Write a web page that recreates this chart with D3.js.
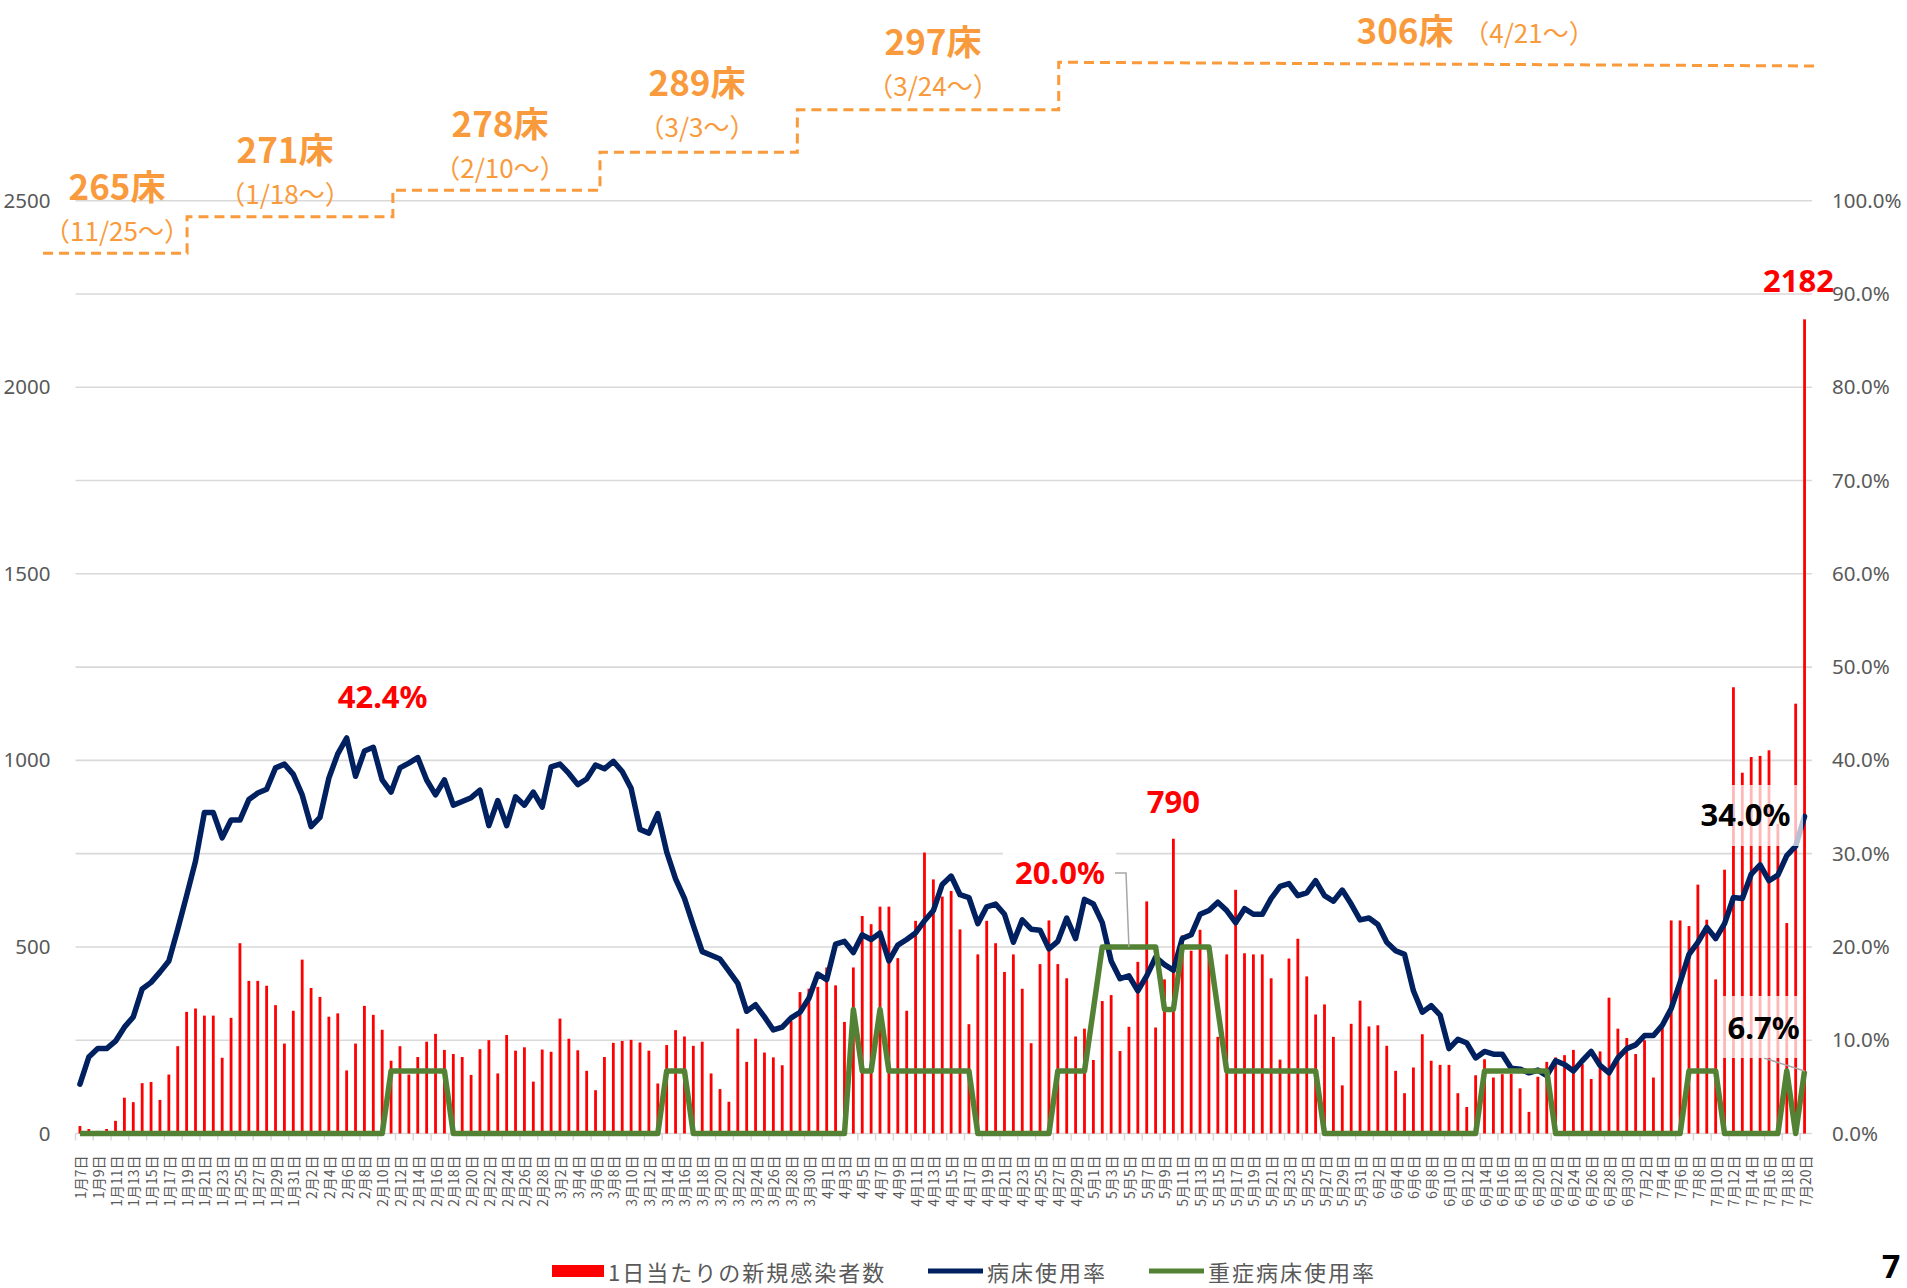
<!DOCTYPE html>
<html>
<head>
<meta charset="utf-8">
<script src="https://cdn.jsdelivr.net/npm/d3@7"></script>
<style>
  body { margin: 0; background: #fff; }
  svg { display: block; font-family: "Noto Sans CJK JP", "Noto Sans", sans-serif; }
</style>
</head>
<body>
<svg id="chart" width="1907" height="1288"></svg>
<script>
// ---------------- DATA ----------------
const firstDay = [2022, 0, 7];   // 1月7日
const lastDay  = [2022, 6, 20];  // 7月20日

// 1日当たりの新規感染者数
const cases = [
  20,12,7,12,34,96,84,135,138,90,
  158,234,326,335,316,316,203,310,510,409,
  409,396,344,241,329,466,390,366,313,322,
  169,241,342,318,278,195,234,158,205,246,
  267,224,213,205,157,226,250,161,264,222,
  231,139,225,219,308,254,223,168,116,205,
  243,248,251,244,222,134,237,277,260,235,
  246,161,119,85,281,192,254,217,204,183,
  301,379,388,393,445,397,299,445,583,561,
  608,608,470,329,570,753,681,635,650,547,
  293,480,570,510,433,480,388,242,454,571,
  454,416,260,281,197,355,371,221,286,460,
  622,284,413,790,531,490,546,480,259,480,
  653,483,480,480,416,198,469,522,421,319,
  346,259,129,294,356,287,290,235,168,108,
  177,266,195,184,184,108,71,156,199,150,
  159,160,121,58,152,192,204,210,224,186,
  146,220,364,281,256,213,250,150,286,571,
  571,556,667,573,413,707,1196,967,1009,1012,
  1027,830,564,1152,2182
];

// 病床使用率 (%)
const bedRate = [
  5.3,8.2,9.1,9.1,9.9,11.4,12.5,15.5,16.2,17.3,
  18.5,21.9,25.5,29.2,34.4,34.4,31.7,33.6,33.6,35.8,
  36.5,36.9,39.2,39.6,38.5,36.3,32.9,33.9,38.1,40.7,
  42.4,38.3,41.0,41.4,37.9,36.6,39.2,39.7,40.3,37.9,
  36.3,37.9,35.2,35.6,36.0,36.8,33.0,35.7,33.0,36.1,
  35.2,36.6,35.0,39.3,39.6,38.6,37.4,38.0,39.5,39.1,
  39.9,38.8,37.0,32.6,32.2,34.3,30.2,27.3,25.2,22.3,
  19.5,19.1,18.7,17.4,16.1,13.1,13.8,12.5,11.1,11.4,
  12.4,13.0,14.5,17.1,16.5,20.3,20.6,19.4,21.3,20.8,
  21.5,18.5,20.2,20.8,21.5,22.8,23.9,26.7,27.6,25.6,
  25.3,22.5,24.3,24.6,23.5,20.5,22.9,21.9,21.8,19.8,
  20.6,23.1,20.9,25.1,24.6,22.6,18.5,16.6,16.9,15.3,
  16.9,18.9,18.1,17.5,20.9,21.3,23.5,23.9,24.8,23.9,
  22.6,24.1,23.5,23.5,25.2,26.5,26.8,25.5,25.8,27.1,
  25.5,24.9,26.1,24.6,22.9,23.1,22.4,20.5,19.6,19.2,
  15.3,13.0,13.7,12.7,9.1,10.1,9.7,8.1,8.8,8.5,
  8.5,7.0,6.9,6.5,6.8,6.2,7.8,7.4,6.7,7.8,
  8.8,7.3,6.5,8.1,9.1,9.5,10.5,10.5,11.6,13.4,
  16.2,19.2,20.5,22.1,20.9,22.5,25.3,25.2,27.8,28.8,
  27.1,27.7,29.8,30.8,34.0
];

// 重症病床使用率 (%)
const severeRate = [
  0,0,0,0,0,0,0,0,0,0,
  0,0,0,0,0,0,0,0,0,0,
  0,0,0,0,0,0,0,0,0,0,
  0,0,0,0,0,6.7,6.7,6.7,6.7,6.7,
  6.7,6.7,0,0,0,0,0,0,0,0,
  0,0,0,0,0,0,0,0,0,0,
  0,0,0,0,0,0,6.7,6.7,6.7,0,
  0,0,0,0,0,0,0,0,0,0,
  0,0,0,0,0,0,0,13.3,6.7,6.7,
  13.3,6.7,6.7,6.7,6.7,6.7,6.7,6.7,6.7,6.7,
  6.7,0,0,0,0,0,0,0,0,0,
  6.7,6.7,6.7,6.7,13.3,20,20,20,20,20,
  20,20,13.3,13.3,20,20,20,20,13.3,6.7,
  6.7,6.7,6.7,6.7,6.7,6.7,6.7,6.7,6.7,6.7,
  0,0,0,0,0,0,0,0,0,0,
  0,0,0,0,0,0,0,0,6.7,6.7,
  6.7,6.7,6.7,6.7,6.7,6.7,0,0,0,0,
  0,0,0,0,0,0,0,0,0,0,
  0,6.7,6.7,6.7,6.7,0,0,0,0,0,
  0,0,6.7,0,6.7
];

const leftTicks  = [0, 500, 1000, 1500, 2000, 2500];
const rightTicks = [0, 10, 20, 30, 40, 50, 60, 70, 80, 90, 100];

// 確保病床数の推移
const bedCounts = ["265床", "271床", "278床", "289床", "297床", "306床"];
const bedSince  = ["（11/25〜）", "（1/18〜）", "（2/10〜）", "（3/3〜）", "（3/24〜）", "（4/21〜）"];

const legendNames = ["1日当たりの新規感染者数", "病床使用率", "重症病床使用率"];
const pageNumber = "7";

// ---------------- LAYOUT ----------------
const W = 1907, H = 1288;
const plot = { left: 75.5, right: 1809, top: 200.7, bottom: 1133.5, gridRight: 1812 };
const colors = { bar: "#FF0000", bed: "#002060", severe: "#548235", step: "#F99B3C",
                 grid: "#D9D9D9", tick: "#595959", leader: "#A6A6A6" };

// step annotation geometry (in category-index / left-axis units)
const stepXs     = [-4.15, 12.05, 35.2, 58.5, 80.7, 110.1, 195.5];
const stepLevels = [2359, 2457, 2528, 2630, 2744, 2871];
const stepEndLevel = 2861;
// [x of count, y of count, dx of "since" relative to count, dy of "since"]
const bedLabelPos = [[117,184.5,0,45],[285,147.5,0,45],[500,121.5,0,45],[697,80.5,0,45],[933,39.5,0,45],[1405,28,124,3]];

// ---------------- DRAW ----------------
const days = d3.timeDay.range(new Date(...firstDay), d3.timeDay.offset(new Date(...lastDay), 1));
const categories = days.map(d => `${d.getMonth() + 1}月${d.getDate()}日`);

const svg = d3.select("#chart");
svg.append("rect").attr("width", W).attr("height", H).attr("fill", "#fff");

const x = d3.scaleBand().domain(d3.range(categories.length)).range([plot.left, plot.right]).padding(0);
const cx = i => x(i) + x.bandwidth() / 2;
const xIdx = d3.scaleLinear().domain([0, categories.length - 1]).range([cx(0), cx(categories.length - 1)]);
const y = d3.scaleLinear().domain([0, 2500]).range([plot.bottom, plot.top]);
const yR = d3.scaleLinear().domain([0, 100]).range([plot.bottom, plot.top]);

// gridlines
svg.append("g").selectAll("line").data(rightTicks).join("line")
  .attr("x1", plot.left).attr("x2", plot.gridRight)
  .attr("y1", d => yR(d)).attr("y2", d => yR(d))
  .attr("stroke", colors.grid).attr("stroke-width", 1.6);

// left axis
const gL = svg.append("g").attr("transform", `translate(${plot.left - 22},0)`)
  .call(d3.axisLeft(y).tickValues(leftTicks).tickSize(0).tickFormat(d3.format("d")));
gL.select(".domain").remove();
gL.selectAll("text").attr("font-size", 20.5).attr("fill", colors.tick)
  .attr("font-family", '"Noto Sans", sans-serif');

// right axis
const gR = svg.append("g").attr("transform", `translate(${plot.gridRight + 20},0)`)
  .call(d3.axisRight(yR).tickValues(rightTicks).tickSize(0).tickFormat(d => d.toFixed(1) + "%"));
gR.select(".domain").remove();
gR.selectAll("text").attr("font-size", 20.5).attr("fill", colors.tick)
  .attr("font-family", '"Noto Sans", sans-serif').attr("x", 0);

// x-axis ticks & labels (every other day)
const labelIdx = d3.range(0, categories.length, 2);
svg.append("g").selectAll("line").data(labelIdx).join("line")
  .attr("x1", i => x(i)).attr("x2", i => x(i))
  .attr("y1", plot.bottom).attr("y2", plot.bottom + 7)
  .attr("stroke", colors.grid).attr("stroke-width", 1.5);
svg.append("g").selectAll("text").data(labelIdx).join("text")
  .attr("transform", i => `translate(${cx(i)},${plot.bottom + 22}) rotate(-90)`)
  .attr("text-anchor", "end").attr("dominant-baseline", "central")
  .attr("font-size", 14).attr("fill", colors.tick)
  .text(i => categories[i]);

// bars
svg.append("g").selectAll("rect").data(cases).join("rect")
  .attr("x", (d, i) => cx(i) - 1.4).attr("width", 2.8)
  .attr("y", d => y(d)).attr("height", d => y(0) - y(d))
  .attr("fill", colors.bar);

// lines
const line = d3.line().x((d, i) => cx(i)).y(d => yR(d));
svg.append("path").datum(bedRate).attr("d", line)
  .attr("fill", "none").attr("stroke", colors.bed).attr("stroke-width", 5.5)
  .attr("stroke-linejoin", "round").attr("stroke-linecap", "round");
svg.append("path").datum(severeRate).attr("d", line)
  .attr("fill", "none").attr("stroke", colors.severe).attr("stroke-width", 5.5)
  .attr("stroke-linejoin", "round");

// step annotation (確保病床数)
const stepPts = [];
stepLevels.forEach((lv, k) => {
  const endLv = k === stepLevels.length - 1 ? stepEndLevel : lv;
  stepPts.push([xIdx(stepXs[k]), y(lv)]);
  stepPts.push([xIdx(stepXs[k + 1]), y(endLv)]);
});
svg.append("path").attr("d", d3.line()(stepPts))
  .attr("fill", "none").attr("stroke", colors.step).attr("stroke-width", 3)
  .attr("stroke-dasharray", "10,6");
svg.append("g").selectAll("text").data(bedCounts).join("text")
  .attr("x", (d, i) => bedLabelPos[i][0]).attr("y", (d, i) => bedLabelPos[i][1])
  .attr("text-anchor", "middle").attr("dominant-baseline", "central")
  .attr("font-size", 35).attr("font-weight", "bold").attr("fill", colors.step)
  .text(d => d);
svg.append("g").selectAll("text").data(bedSince).join("text")
  .attr("x", (d, i) => bedLabelPos[i][0] + bedLabelPos[i][2])
  .attr("y", (d, i) => bedLabelPos[i][1] + bedLabelPos[i][3])
  .attr("text-anchor", "middle").attr("dominant-baseline", "central")
  .attr("font-size", 26).attr("fill", colors.step)
  .text(d => d);

// value labels
function label(txt, px, py, color, box, boxOpacity) {
  if (box) {
    svg.append("rect").attr("x", box[0]).attr("y", box[1]).attr("width", box[2]).attr("height", box[3])
      .attr("fill", "#fff").attr("fill-opacity", boxOpacity);
  }
  svg.append("text").attr("x", px).attr("y", py)
    .attr("text-anchor", "middle").attr("dominant-baseline", "central")
    .attr("font-size", 31).attr("font-weight", "bold").attr("fill", color)
    .attr("font-family", '"Noto Sans", sans-serif')
    .text(txt);
}
const iPeak = bedRate.indexOf(d3.max(bedRate.slice(0, 60)));
label(bedRate[iPeak].toFixed(1) + "%", cx(iPeak) + 36, yR(bedRate[iPeak]) - 42, colors.bar, [332, 670, 122, 50], 0.95);

const iCase790 = 123;
label(String(cases[iCase790]), cx(iCase790), y(cases[iCase790]) - 38, colors.bar, null, 0);

// 20.0% (重症) with leader
const iSev = 118;
svg.append("rect").attr("x", 1003).attr("y", 849).attr("width", 113).attr("height", 46).attr("fill", "#fff").attr("fill-opacity", 0.95);
svg.append("path").attr("d", d3.line()([[1115, 873], [1126, 873], [cx(iSev), yR(severeRate[iSev])]]))
  .attr("fill", "none").attr("stroke", colors.leader).attr("stroke-width", 1.5);
label(severeRate[iSev].toFixed(1) + "%", 1060, 872, colors.bar, null, 0);

// last-day labels
const iLast = categories.length - 1;
label(bedRate[iLast].toFixed(1) + "%", cx(iLast) - 59, yR(bedRate[iLast]) - 2, "#000", [1693, 785, 110, 61], 0.72);
svg.append("path").attr("d", d3.line()([[1764, 1058], [cx(iLast), yR(severeRate[iLast])]]))
  .attr("fill", "none").attr("stroke", colors.leader).attr("stroke-width", 1.5);
label(severeRate[iLast].toFixed(1) + "%", cx(iLast) - 41, yR(severeRate[iLast]) - 44, "#000", [1720, 996, 83, 62], 0.72);
label(String(cases[iLast]), cx(iLast) - 6, y(cases[iLast]) - 39, colors.bar, null, 0);

// legend
const legY = 1271;
const lg = svg.append("g").attr("font-size", 22).attr("fill", colors.tick).attr("letter-spacing", 2);
lg.append("rect").attr("x", 552).attr("y", legY - 6).attr("width", 52).attr("height", 12).attr("fill", colors.bar);
lg.append("text").attr("x", 608).attr("y", legY).attr("dominant-baseline", "central").text(legendNames[0]);
lg.append("line").attr("x1", 928).attr("x2", 983).attr("y1", legY).attr("y2", legY)
  .attr("stroke", colors.bed).attr("stroke-width", 5);
lg.append("text").attr("x", 987).attr("y", legY).attr("dominant-baseline", "central").text(legendNames[1]);
lg.append("line").attr("x1", 1149).attr("x2", 1204).attr("y1", legY).attr("y2", legY)
  .attr("stroke", colors.severe).attr("stroke-width", 5);
lg.append("text").attr("x", 1208).attr("y", legY).attr("dominant-baseline", "central").text(legendNames[2]);

// page number
svg.append("text").attr("x", 1882).attr("y", 1278).attr("font-size", 32).attr("font-weight", "bold")
  .attr("fill", "#000").attr("font-family", '"Noto Sans", sans-serif').text(pageNumber);
</script>
</body>
</html>
